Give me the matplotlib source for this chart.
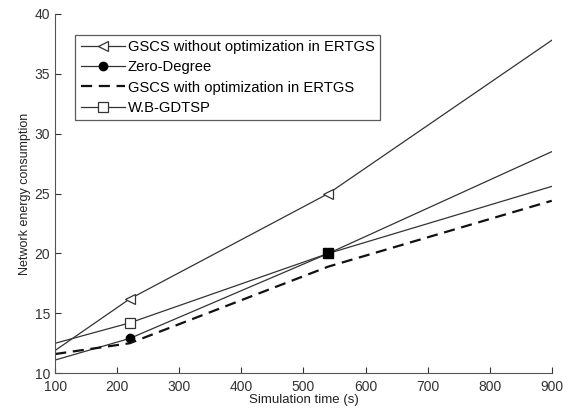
import matplotlib.pyplot as plt

plt.rcParams['font.family'] = ['Liberation Sans', 'DejaVu Sans']

t_wo = [100, 220, 540, 900]
e_wo = [11.9, 16.2, 25.0, 37.8]

t_zero = [100, 220, 540, 900]
e_zero = [11.1, 12.9, 20.0, 28.5]

t_with = [100, 220, 540, 900]
e_with = [11.6, 12.5, 18.9, 24.4]

t_wb = [100, 220, 540, 900]
e_wb = [12.5, 14.2, 20.0, 25.6]

mk = [1, 2]  # marker positions

fig = plt.figure(figsize=(5.63, 4.11), dpi=100)
ax = fig.add_axes([0.098, 0.092, 0.882, 0.874])

c = '#333333'
ax.plot(t_wo, e_wo, color=c, lw=0.9, marker='<', markevery=mk, ms=7,
        mfc='white', mec=c, mew=0.9, label='GSCS without optimization in ERTGS')
ax.plot(t_zero, e_zero, color=c, lw=0.9, marker='o', markevery=mk, ms=6,
        mfc='black', mec='black', label='Zero-Degree')
ax.plot(t_with, e_with, color='#111111', lw=1.6, ls=(0, (5, 3)),
        label='GSCS with optimization in ERTGS')
ax.plot(t_wb, e_wb, color=c, lw=0.9, marker='s', markevery=[1], ms=7,
        mfc='white', mec=c, mew=0.9, label='W.B-GDTSP')
ax.plot(t_wb[2], e_wb[2], marker='s', ms=7, color='black', ls='none')

ax.set_xlim(100, 900)
ax.set_ylim(10, 40)
ax.set_xticks(range(100, 1000, 100))
ax.set_yticks(range(10, 45, 5))
ax.spines['top'].set_visible(False)
ax.spines['right'].set_visible(False)
for s in ax.spines.values():
    s.set_color('#555555')
ax.tick_params(direction='in', length=4, labelsize=10, colors='#333333')
ax.tick_params(axis='x', pad=5)

ax.set_xlabel('Simulation time (s)', fontsize=9.5, labelpad=0, color='#222222')
ax.set_ylabel('Network energy consumption', fontsize=9, labelpad=3, color='#222222')

leg = ax.legend(loc='upper left', bbox_to_anchor=(0.026, 0.962), fontsize=10.6,
                frameon=True, fancybox=False, edgecolor='#333333',
                handlelength=3.0, borderpad=0.35, labelspacing=0.42,
                handletextpad=0.2)
leg.get_frame().set_linewidth(0.9)

fig.savefig('out.png', dpi=100)
